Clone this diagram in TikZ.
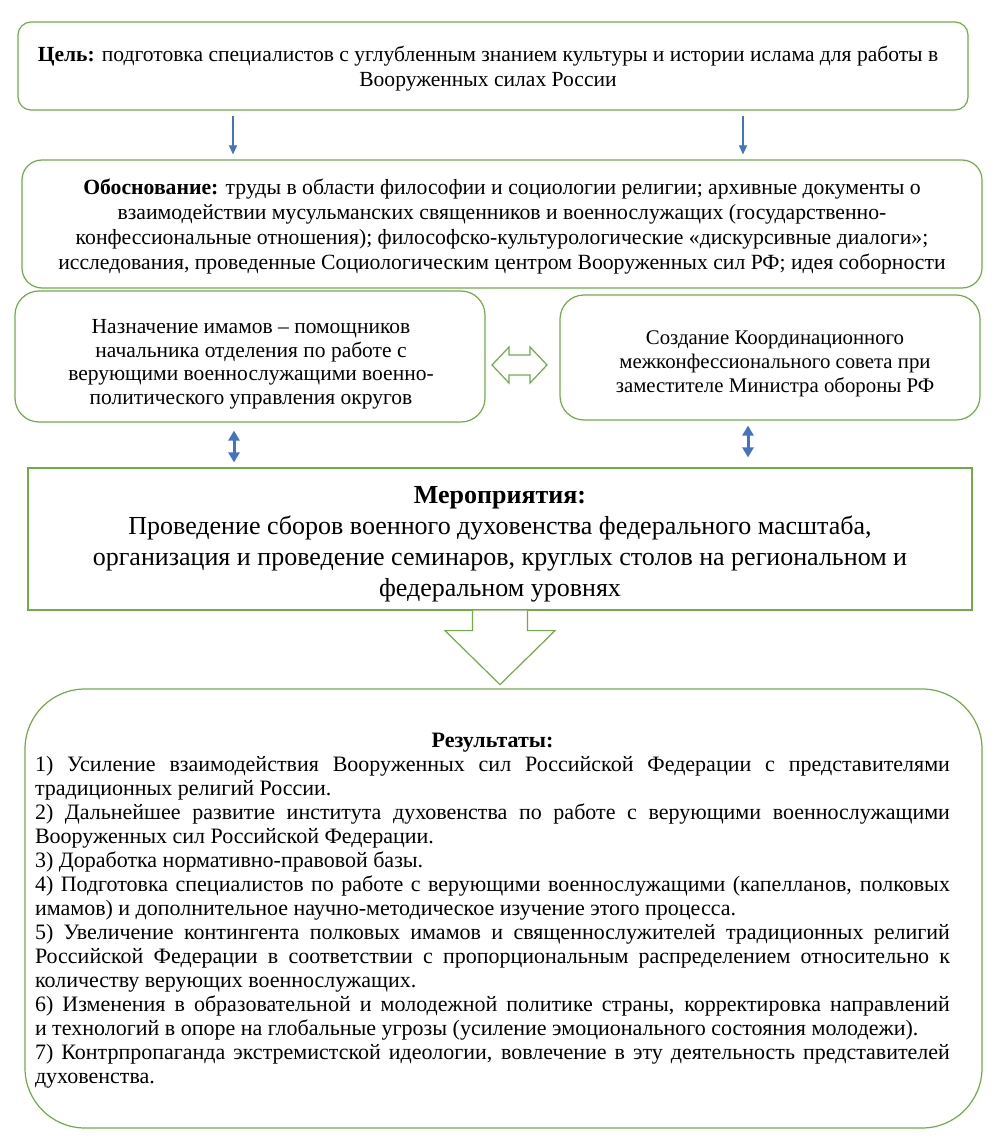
\documentclass[tikz,border=0pt]{standalone}
\usepackage{fontspec}
\setmainfont{Liberation Serif}
\usetikzlibrary{arrows.meta,calc}
\definecolor{grn}{RGB}{112,173,71}
\definecolor{blu}{RGB}{68,114,196}
\begin{document}
\begin{tikzpicture}[x=1pt,y=-1pt,
  gbox/.style={draw=grn,line width=1.2pt,fill=white,inner sep=0pt},
  txt/.style={inner sep=0pt,align=center},
  bluearrow/.style={draw=blu,line width=1.1pt,-{Triangle[length=9pt,width=8pt]}},
  dblarrow/.style={draw=blu,line width=3pt,{Triangle[length=10pt,width=11pt]}-{Triangle[length=10pt,width=11pt]}},
  hollow/.style={draw=grn,line width=1.2pt,fill=white,line join=miter}
]
\useasboundingbox[fill=white] (0,0) rectangle (1000,1147);

% Goal
\node[gbox,rounded corners=13pt,minimum width=950pt,minimum height=88pt] (goal) at (493,66) {};
\node[txt,font=\fontsize{21.55}{25}\selectfont] (goaltext) at ($(goal.center)+(-5,3)$)
  {\textbf{Цель:} подготовка специалистов с углубленным знанием культуры и истории ислама для работы в\\
   Вооруженных силах России};

% Basis
\node[gbox,rounded corners=20pt,minimum width=960pt,minimum height=128pt] (basis) at (502,224) {};
\node[txt,font=\fontsize{21.7}{25}\selectfont] (basistext) at ($(basis.center)+(0,3)$)
  {\textbf{Обоснование:} труды в области философии и социологии религии; архивные документы о\\
   взаимодействии мусульманских священников и военнослужащих (государственно-\\
   конфессиональные отношения); философско-культурологические «дискурсивные диалоги»;\\
   исследования, проведенные Социологическим центром Вооруженных сил РФ; идея соборности};

% Appointment
\node[gbox,rounded corners=24pt,minimum width=470pt,minimum height=131pt] (appoint) at (250,356.5) {};
\node[txt,font=\fontsize{21.5}{23.5}\selectfont] (appointtext) at ($(appoint.center)+(1,8)$)
  {Назначение имамов – помощников\\
   начальника отделения по работе с\\
   верующими военнослужащими военно-\\
   политического управления округов};

% Council
\node[gbox,rounded corners=24pt,minimum width=420pt,minimum height=125pt] (council) at (770,357.5) {};
\node[txt,font=\fontsize{20.8}{24}\selectfont] (counciltext) at ($(council.center)+(5,6)$)
  {Создание Координационного\\
   межконфессионального совета при\\
   заместителе Министра обороны РФ};

% Activities
\node[gbox,minimum width=944pt,minimum height=142pt] (act) at (500,539) {};
\node[txt,font=\fontsize{26}{31}\selectfont] (acttext) at ($(act.center)+(0,5.5)$)
  {\textbf{Мероприятия:}\\
   Проведение сборов военного духовенства федерального масштаба,\\
   организация и проведение семинаров, круглых столов на региональном и\\
   федеральном уровнях};

% Results
\node[gbox,rounded corners=60pt,minimum width=957pt,minimum height=439pt] (res) at (503.5,908.5) {};
\node[inner sep=0pt,align=justify,text width=915pt,
      font=\fontsize{22}{24}\selectfont] (restext) at ($(res.center)+(-11,2)$)
  {\makebox[915pt]{\textbf{Результаты:}}\\
   1) Усиление взаимодействия Вооруженных сил Российской Федерации с представителями\linebreak
   традиционных религий России.\\
   2) Дальнейшее развитие института духовенства по работе с верующими военнослужащими\linebreak
   Вооруженных сил Российской Федерации.\\
   3) Доработка нормативно-правовой базы.\\
   4) Подготовка специалистов по работе с верующими военнослужащими (капелланов, полковых\linebreak
   имамов) и дополнительное научно-методическое изучение этого процесса.\\
   5) Увеличение контингента полковых имамов и священнослужителей традиционных религий\linebreak
   Российской Федерации в соответствии с пропорциональным распределением относительно к\linebreak
   количеству верующих военнослужащих.\\
   6) Изменения в образовательной и молодежной политике страны, корректировка направлений\linebreak
   и технологий в опоре на глобальные угрозы (усиление эмоционального состояния молодежи).\\
   7) Контрпропаганда экстремистской идеологии, вовлечение в эту деятельность представителей\linebreak
   духовенства.};

% Blue arrows from goal to basis
\coordinate (xa) at (233,0);
\coordinate (xb) at (743,0);
\draw[bluearrow,shorten <=5pt,shorten >=5pt] (goal.south -| xa) -- (basis.north -| xa);
\draw[bluearrow,shorten <=5pt,shorten >=5pt] (goal.south -| xb) -- (basis.north -| xb);

% Double arrows to activities
\coordinate (xc) at (234,0);
\coordinate (xd) at (748,0);
\draw[dblarrow,shorten <=8pt,shorten >=5pt] (appoint.south -| xc) -- (act.north -| xc);
\draw[dblarrow,shorten <=5pt,shorten >=10pt] (council.south -| xd) -- (act.north -| xd);

% Hollow two-way arrow between appointment and council
\begin{scope}[shift={($(appoint.east)!0.5!(council.west)+(-3,8)$)}]
  \draw[hollow] (-27.5,0) -- (-10.5,-18) -- (-10.5,-10) -- (10.5,-10) -- (10.5,-18)
    -- (27.5,0) -- (10.5,18) -- (10.5,10) -- (-10.5,10) -- (-10.5,18) -- cycle;
\end{scope}

% Block arrow from activities to results
\begin{scope}[shift={(act.south)}]
  \draw[hollow] (-27.5,0) -- (-27.5,20) -- (-55,20) -- (0,74) -- (55,20) -- (27.5,20) -- (27.5,0);
\end{scope}
\end{tikzpicture}
\end{document}
